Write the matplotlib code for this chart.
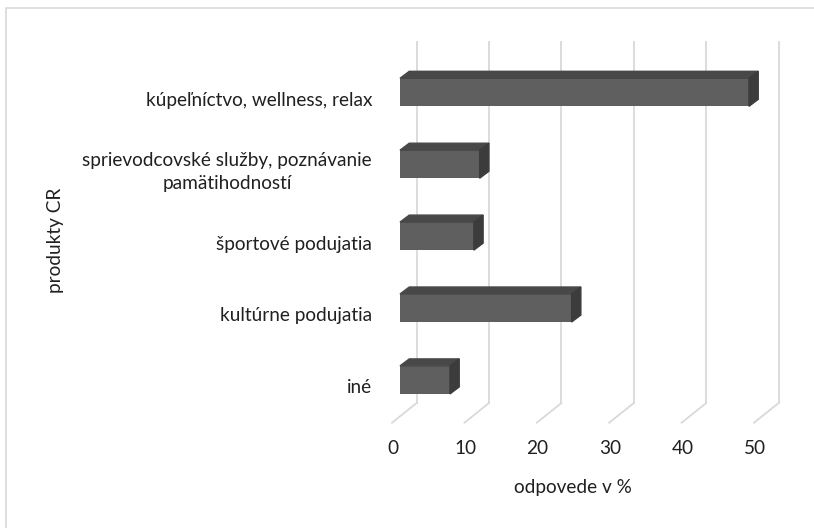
import numpy as np
import matplotlib
matplotlib.use('Agg')
import matplotlib.pyplot as plt
from matplotlib.patches import Polygon, Rectangle

# data (bottom to top)
categories = ['iné', 'kultúrne podujatia', 'športové podujatia',
              'sprievodcovské služby, poznávanie\npamätihodností',
              'kúpeľníctvo, wellness, relax']
values = [6.9, 23.7, 10.2, 11.0, 48.2]
ticks = [0, 10, 20, 30, 40, 50]

plt.rcParams['font.family'] = ['Lato', 'DejaVu Sans']
txt = '#202020'
fs = 13.7

W, H = 814, 528
fig = plt.figure(figsize=(W / 100, H / 100), dpi=100)

# axes region in pixels
px0, px1, py0, py1 = 380, 790, 30, 430
ax = fig.add_axes([px0 / W, 1 - py1 / H, (px1 - px0) / W, (py1 - py0) / H])
sx = 7.24    # px per unit
sy = 71.9    # px per category
ax.set_xlim((px0 - 400) / sx, (px1 - 400) / sx)
ax.set_ylim((379.9 - py1) / sy, (379.9 - py0) / sy)
ax.axis('off')

# 3d offsets
wall_dx, wall_top, wall_bot = 2.3, 4.70, -0.321
floor_dx, floor_dy = -1.1 - 2.3, -0.274
bar_dx, bar_dy = 1.28, 0.097
h = 0.39
grid = '#d9d9d9'

for g in ticks:
    ax.plot([g + wall_dx, g + wall_dx], [wall_bot, wall_top], color=grid, lw=1.3, zorder=1)
    ax.plot([g + wall_dx, g + wall_dx + floor_dx], [wall_bot, wall_bot + floor_dy],
            color=grid, lw=1.3, zorder=1)

y = np.arange(len(categories))
ax.barh(y, values, height=h, left=0, color='#5f5f5f', zorder=3)
for k, v in zip(y, values):
    top = k + h / 2
    bot = k - h / 2
    ax.add_patch(Polygon([(0, top), (v, top), (v + bar_dx, top + bar_dy), (bar_dx, top + bar_dy)],
                         closed=True, color='#484848', zorder=3))
    ax.add_patch(Polygon([(v, bot), (v, top), (v + bar_dx, top + bar_dy), (v + bar_dx, bot + bar_dy)],
                         closed=True, color='#3c3c3c', zorder=3))

# category labels
for k, lab in zip(y, categories):
    ax.text((372 - 400) / sx, k - 0.11, lab, ha='right', va='center', fontsize=fs,
            color=txt, multialignment='center', linespacing=1.4)

# tick labels
for g in ticks:
    ax.text(g - 1.0, (379.9 - 449) / sy, str(g), ha='center', va='center', fontsize=fs, color=txt)

fig.text(573 / W, 1 - 487 / H, 'odpovede v %', ha='center', va='center', fontsize=fs, color=txt)
fig.text(55 / W, 1 - 240 / H, 'produkty CR', ha='center', va='center', rotation=90,
         fontsize=fs, color=txt)

# chart border
fig.add_artist(Rectangle((6 / W, -0.1), 1.2, 1 - 8 / H + 0.1, transform=fig.transFigure,
                         fill=False, edgecolor='#d9d9d9', lw=1.2))

fig.savefig('out.png', dpi=100, facecolor='white')
